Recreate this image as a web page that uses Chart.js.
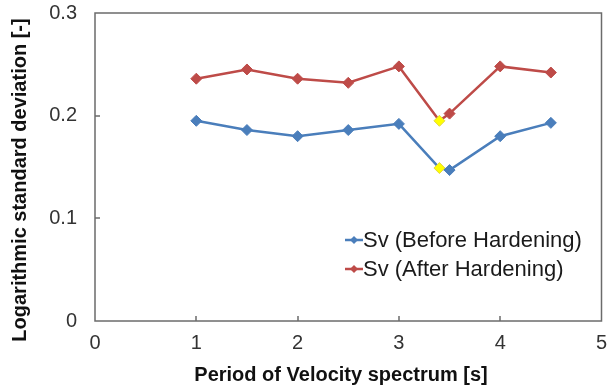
<!DOCTYPE html>
<html>
<head>
<meta charset="utf-8">
<script src="https://cdn.jsdelivr.net/npm/chart.js@4/dist/chart.umd.min.js"></script>
<style>
html, body { margin: 0; padding: 0; background: #fff; }
#wrap { width: 608px; height: 389px; }
</style>
</head>
<body>
<div id="wrap"><canvas id="myChart" width="608" height="389"></canvas></div>
<script>
// periods [s] and log standard deviations for each series
var periods = [1, 1.5, 2, 2.5, 3, 3.4, 3.5, 4, 4.5];
var sdBefore = [0.195, 0.186, 0.180, 0.186, 0.192, 0.149, 0.147, 0.180, 0.193];
var sdAfter = [0.236, 0.245, 0.236, 0.232, 0.248, 0.195, 0.202, 0.248, 0.242];
var xTicks = [0, 1, 2, 3, 4, 5];
var yTicks = [0, 0.1, 0.2, 0.3];
var yTickLabels = ['0', '0.1', '0.2', '0.3'];
var markedPeriod = 3.4;

var xTitle = 'Period of Velocity spectrum [s]';
var yTitle = 'Logarithmic standard deviation [-]';

var blue = '#4a7ebb';
var red = '#be4b48';
var yellow = '#ffff00';
var fontFam = '"Liberation Sans", Arial, sans-serif';

function points(vals) {
  var out = [];
  for (var i = 0; i < periods.length; i++) {
    out.push({ x: periods[i], y: vals[i] });
  }
  return out;
}

function markerFill(color) {
  return function (c) {
    return periods[c.dataIndex] === markedPeriod ? yellow : color;
  };
}
function markerEdge(color) {
  return function (c) {
    return periods[c.dataIndex] === markedPeriod ? '#e2d640' : color;
  };
}

// box around the plot, inward tick marks, axis titles and legend
var framePlugin = {
  id: 'frame',
  afterDraw: function (chart) {
    var ctx = chart.ctx;
    var a = chart.chartArea;
    var xs = chart.scales.x, ys = chart.scales.y;
    ctx.save();
    ctx.strokeStyle = '#6b6b6b';
    ctx.lineWidth = 1.5;
    ctx.strokeRect(a.left, a.top, a.right - a.left, a.bottom - a.top);
    ctx.beginPath();
    xTicks.forEach(function (v) {
      if (v === xs.min || v === xs.max) return;
      var px = Math.round(xs.getPixelForValue(v));
      ctx.moveTo(px, a.bottom);
      ctx.lineTo(px, a.bottom - 5);
    });
    yTicks.forEach(function (v) {
      if (v === ys.min || v === ys.max) return;
      var py = Math.round(ys.getPixelForValue(v));
      ctx.moveTo(a.left, py);
      ctx.lineTo(a.left + 5, py);
    });
    ctx.stroke();

    // axis titles
    ctx.fillStyle = '#111';
    ctx.textAlign = 'center';
    ctx.textBaseline = 'middle';
    ctx.font = 'bold 20px ' + fontFam;
    ctx.fillText(xTitle, 341, 375);
    ctx.save();
    ctx.translate(20, 180);
    ctx.rotate(-Math.PI / 2);
    ctx.fillText(yTitle, 0, 0);
    ctx.restore();

    // legend inside the plot
    ctx.font = '22px ' + fontFam;
    ctx.textAlign = 'left';
    chart.data.datasets.forEach(function (ds, i) {
      var y = 240 + i * 29;
      var x0 = 345;
      ctx.strokeStyle = ds.borderColor;
      ctx.lineWidth = 2.5;
      ctx.beginPath();
      ctx.moveTo(x0, y);
      ctx.lineTo(x0 + 18, y);
      ctx.stroke();
      ctx.fillStyle = ds.borderColor;
      ctx.beginPath();
      ctx.moveTo(x0 + 9, y - 4);
      ctx.lineTo(x0 + 13, y);
      ctx.lineTo(x0 + 9, y + 4);
      ctx.lineTo(x0 + 5, y);
      ctx.closePath();
      ctx.fill();
      ctx.fillStyle = '#1a1a1a';
      ctx.fillText(ds.label, x0 + 18, y + 1);
    });
    ctx.restore();
  }
};

new Chart(document.getElementById('myChart').getContext('2d'), {
  type: 'scatter',
  data: {
    datasets: [{
      label: 'Sv (Before Hardening)',
      data: points(sdBefore),
      showLine: true,
      borderColor: blue,
      borderWidth: 2.5,
      pointStyle: 'rectRot',
      pointRadius: 5.5,
      pointHoverRadius: 5.5,
      pointBackgroundColor: markerFill(blue),
      pointBorderColor: markerEdge(blue),
      pointBorderWidth: 1
    }, {
      label: 'Sv (After Hardening)',
      data: points(sdAfter),
      showLine: true,
      borderColor: red,
      borderWidth: 2.5,
      pointStyle: 'rectRot',
      pointRadius: 5.5,
      pointHoverRadius: 5.5,
      pointBackgroundColor: markerFill(red),
      pointBorderColor: markerEdge(red),
      pointBorderWidth: 1
    }]
  },
  options: {
    responsive: false,
    animation: false,
    layout: { padding: { top: 13, right: 5, left: 0, bottom: 0 } },
    plugins: { legend: { display: false }, tooltip: { enabled: false } },
    scales: {
      x: {
        type: 'linear',
        min: 0,
        max: 5,
        afterBuildTicks: function (s) { s.ticks = xTicks.map(function (v) { return { value: v }; }); },
        afterFit: function (s) { s.height = 68; s.paddingLeft = 0; s.paddingRight = 0; },
        grid: { display: false, drawTicks: false },
        border: { display: false },
        ticks: {
          padding: 10,
          color: '#333',
          font: { family: fontFam, size: 20 },
          maxRotation: 0
        }
      },
      y: {
        type: 'linear',
        min: 0,
        max: 0.3,
        afterBuildTicks: function (s) { s.ticks = yTicks.map(function (v) { return { value: v }; }); },
        afterFit: function (s) { s.width = 95; s.paddingTop = 0; s.paddingBottom = 0; },
        grid: { display: false, drawTicks: false },
        border: { display: false },
        ticks: {
          padding: 18,
          color: '#333',
          font: { family: fontFam, size: 20 },
          callback: function (v, i) { return yTickLabels[i]; }
        }
      }
    }
  },
  plugins: [framePlugin]
});
</script>
</body>
</html>
